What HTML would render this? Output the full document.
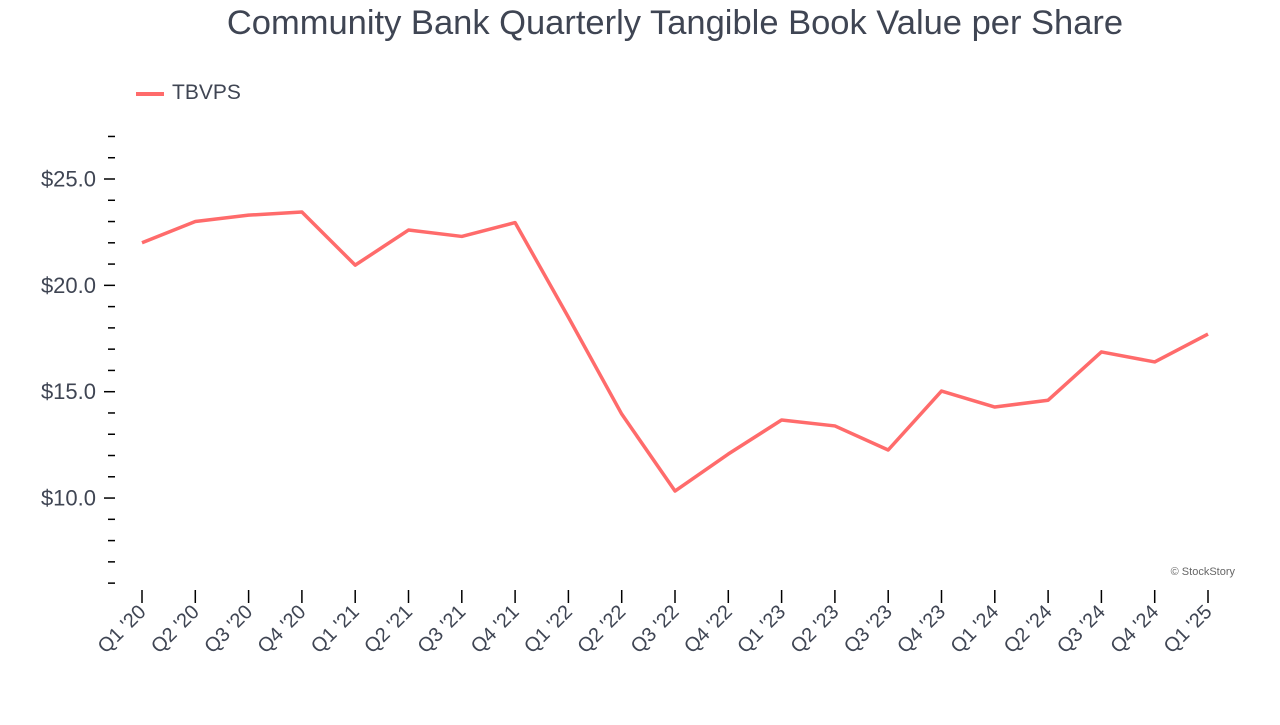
<!DOCTYPE html>
<html><head><meta charset="utf-8"><style>
body{margin:0;background:#fff;width:1280px;height:720px;overflow:hidden;font-family:"Liberation Sans",sans-serif}
</style></head><body>
<svg id="chart" width="1280" height="720" xmlns="http://www.w3.org/2000/svg">
<text x="675" y="34" text-anchor="middle" font-size="34.5" fill="#3f4553" font-family="Liberation Sans, sans-serif">Community Bank Quarterly Tangible Book Value per Share</text>
<g>
<line x1="136" y1="94" x2="164" y2="94" stroke="#ff6b6b" stroke-width="4"/>
<text x="172" y="99" font-size="21" fill="#3f4553">TBVPS</text>
</g>
<text x="1235" y="575" text-anchor="end" font-size="11" fill="#666">© StockStory</text>
<g id="yaxis"></g>
<g id="xaxis"></g>
<g id="series"></g>
</svg>
<script>
const categories=["Q1 '20","Q2 '20","Q3 '20","Q4 '20","Q1 '21","Q2 '21","Q3 '21","Q4 '21","Q1 '22","Q2 '22","Q3 '22","Q4 '22","Q1 '23","Q2 '23","Q3 '23","Q4 '23","Q1 '24","Q2 '24","Q3 '24","Q4 '24","Q1 '25"];
const tbvps=[22.0,23.0,23.3,23.45,20.95,22.6,22.3,22.95,18.5,13.95,10.33,12.07,13.67,13.39,12.26,15.03,14.28,14.6,16.87,16.4,17.71];
const yTicks=[10,15,20,25];
const yTickLabels=["$10.0","$15.0","$20.0","$25.0"];
const NS="http://www.w3.org/2000/svg";
function y(v){return 179+(25-v)*21.27;}
function x(i){return 142+i*53.3;}
function mk(t,a,p){const e=document.createElementNS(NS,t);for(const k in a)e.setAttribute(k,a[k]);p.appendChild(e);return e;}
const ya=document.getElementById('yaxis');
for(let v=6;v<=27;v++){const l=mk('line',{x1:v%5==0?104:108,x2:115,y1:y(v),y2:y(v),stroke:'#000','stroke-width':1.5},ya);

}
yTicks.forEach((v,i)=>{const t=mk('text',{x:96,y:y(v)+7.5,'text-anchor':'end','font-size':22,fill:'#3f4553'},ya);t.textContent=yTickLabels[i];

});
const xa=document.getElementById('xaxis');
categories.forEach((c,i)=>{const l=mk('line',{x1:x(i),x2:x(i),y1:590,y2:603,stroke:'#000','stroke-width':1.5},xa);


const t=mk('text',{x:x(i)+5,y:613,'text-anchor':'end','font-size':20,fill:'#3f4553',transform:`rotate(-45 ${x(i)+5} 613)`},xa);t.textContent=c;

});
const s=document.getElementById('series');
const p=mk('polyline',{points:tbvps.map((v,i)=>x(i)+','+y(v)).join(' '),fill:'none',stroke:'#ff6b6b','stroke-width':3.5,'stroke-linejoin':'round'},s);


</script>
</body></html>
